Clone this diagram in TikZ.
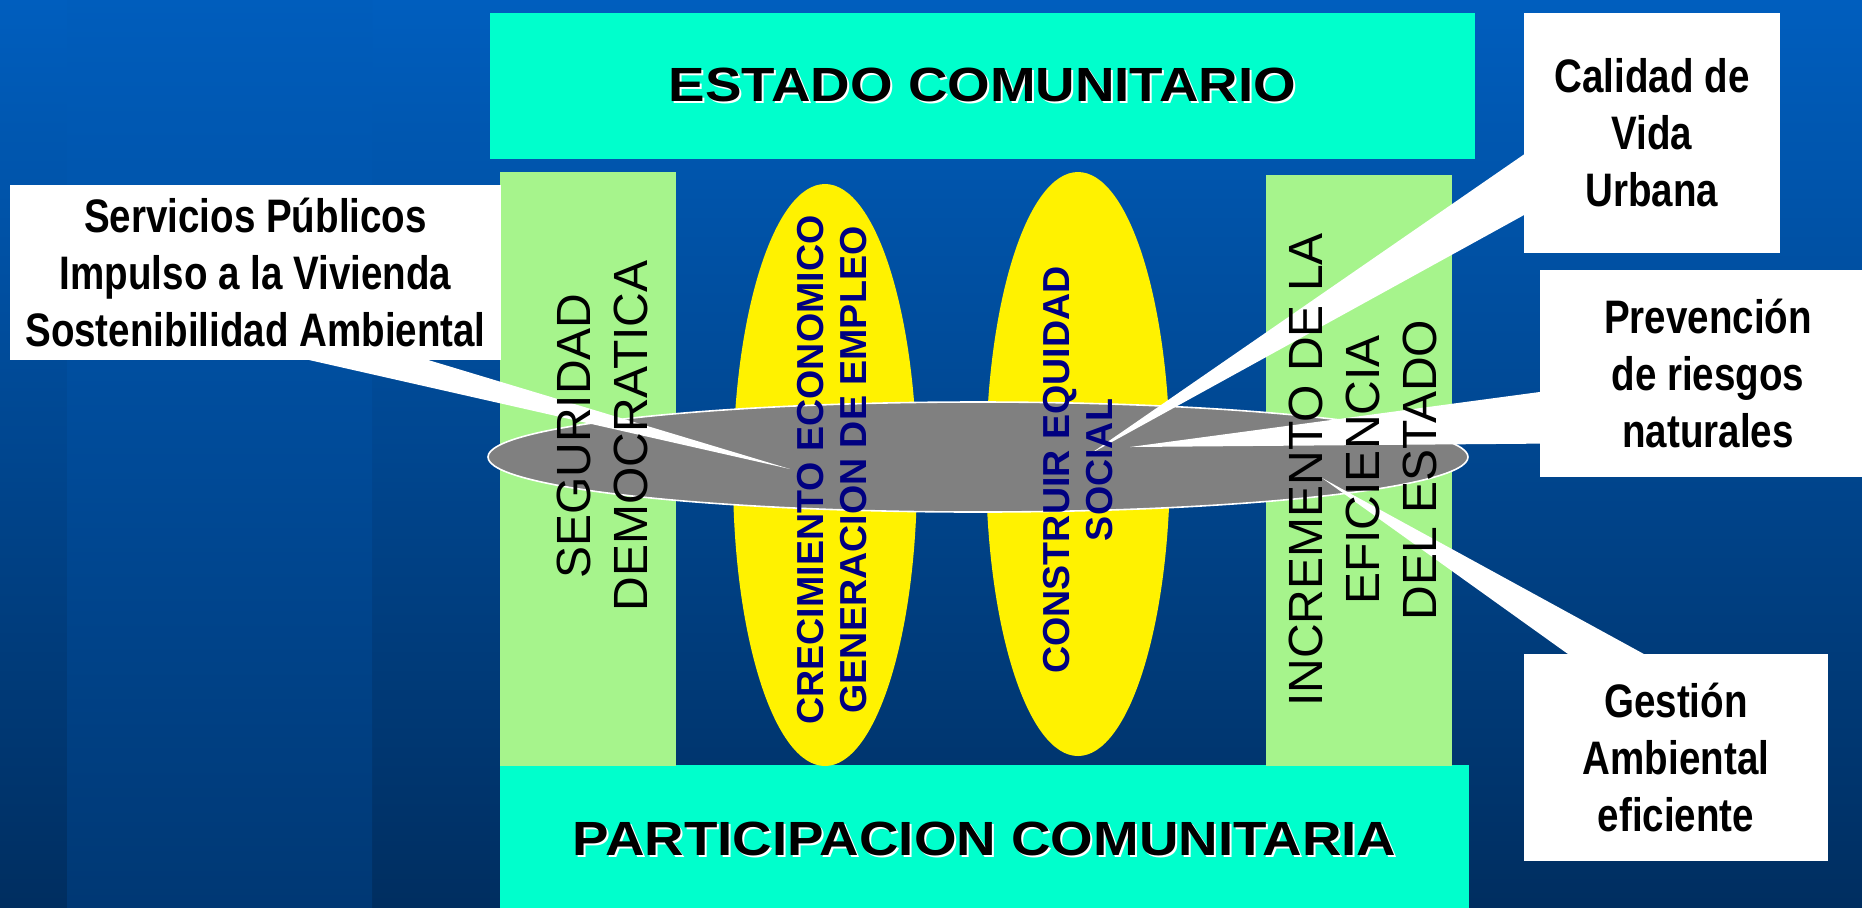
\documentclass[tikz,border=0pt]{standalone}
\usepackage{fontspec}
\setmainfont{Liberation Sans}
\newfontfamily\narrowsans{Liberation Sans}[FakeStretch=0.82]
\newfontfamily\widesans{Liberation Sans}[FakeStretch=1.14]
\usetikzlibrary{shapes.geometric,calc}

\definecolor{bgtop}{RGB}{0,94,190}
\definecolor{bgbottom}{RGB}{0,46,96}
\definecolor{stripetop}{RGB}{0,93,188}
\definecolor{stripebottom}{RGB}{0,56,116}
\definecolor{bannercyan}{RGB}{0,255,204}
\definecolor{pillargreen}{RGB}{166,244,140}
\definecolor{ovalgrey}{RGB}{128,128,128}
\definecolor{navytext}{RGB}{0,0,128}

\newcommand{\shadowed}[1]{\makebox[0pt][l]{\hspace{1pt}\raisebox{-1pt}{\color{white}#1}}#1}

\begin{document}
\begin{tikzpicture}[x=0.5pt,y=-0.5pt,
	banner/.style={fill=bannercyan, inner sep=0pt, font=\widesans\bfseries\fontsize{24}{28}\selectfont},
	pillar/.style={fill=pillargreen, inner sep=0pt},
	oval/.style={ellipse, fill=yellow, inner sep=0pt},
	notebox/.style={fill=white, inner sep=0pt, align=center, font=\narrowsans\bfseries\fontsize{23.5}{28.5}\selectfont},
	notewedge/.style={fill=white},
	pillartext/.style={rotate=90, align=center, font=\fontsize{24}{28.5}\selectfont},
	ovaltext/.style={rotate=90, align=center, text=navytext, font=\bfseries\fontsize{18.8}{21.5}\selectfont}]
	\useasboundingbox (0,0) rectangle (1862,907);
	\clip (0,0) rectangle (1862,907);
	\shade[top color=bgtop, bottom color=bgbottom] (0,0) rectangle (1862,907);
	\shade[top color=stripetop, bottom color=stripebottom] (67,0) rectangle (372,907);

	\node[banner, minimum width=492.5pt, minimum height=73pt] (estado) at (982.5,86) {\shadowed{ESTADO COMUNITARIO}};
	\node[banner, minimum width=484.5pt, minimum height=75pt] (participacion) at (984.5,840) {\shadowed{PARTICIPACION COMUNITARIA}};

	\node[pillar, minimum width=88pt, minimum height=297pt] (seguridad) at (588,469) {};
	\node[pillar, minimum width=93pt, minimum height=295.5pt] (incremento) at (1359,470.5) {};
	\node[oval, minimum width=92pt, minimum height=291pt] (crecimiento) at (825,475) {};
	\node[oval, minimum width=92pt, minimum height=292pt] (equidad) at (1078,464) {};
	\node[ellipse, fill=ovalgrey, draw=white, line width=0.8pt, inner sep=0pt, minimum width=490pt, minimum height=55pt] (eje) at (978,457) {};

	\node[notebox, minimum width=245.5pt, minimum height=87.5pt] (servicios) at (255.5,272.5) {Servicios Públicos\\Impulso a la Vivienda\\Sostenibilidad Ambiental};
	\node[notebox, minimum width=128pt, minimum height=120pt] (calidad) at (1652,133) {Calidad de\\Vida\\Urbana};
	\node[notebox, minimum width=168pt, minimum height=103.5pt] (prevencion) at (1708,373.5) {Prevención\\de riesgos\\naturales};
	\node[notebox, minimum width=152pt, minimum height=103.5pt] (gestion) at (1676,757.5) {Gestión\\Ambiental\\eficiente};

	\coordinate (tipservicios) at (790,469);
	\coordinate (tipcalidad) at (1090,454);
	\coordinate (tipprevencion) at (1130,447);
	\coordinate (tipgestion) at (1322,478);

	\fill[notewedge] ($(servicios.south west)+(288,-3)$) -- (tipservicios) -- ($(servicios.south west)+(410,-3)$) -- cycle;
	\fill[notewedge] ($(calidad.north west)+(3,140)$) -- (tipcalidad) -- ($(calidad.north west)+(3,201)$) -- cycle;
	\fill[notewedge] ($(prevencion.north west)+(3,122)$) -- (tipprevencion) -- ($(prevencion.north west)+(3,174)$) -- cycle;
	\fill[notewedge] ($(gestion.north west)+(48,3)$) -- (tipgestion) -- ($(gestion.north west)+(125,3)$) -- cycle;

	\node[pillartext] (seguridadtext) at (602,436) {SEGURIDAD\\DEMOCRATICA};
	\node[ovaltext] (crecimientotext) at (832,470) {CRECIMIENTO ECONOMICO\\GENERACION DE EMPLEO};
	\node[ovaltext] (equidadtext) at (1078,470) {CONSTRUIR EQUIDAD\\SOCIAL};
	\node[pillartext] (incrementotext) at (1363,470) {INCREMENTO DE LA\\EFICIENCIA\\DEL ESTADO};
\end{tikzpicture}
\end{document}
